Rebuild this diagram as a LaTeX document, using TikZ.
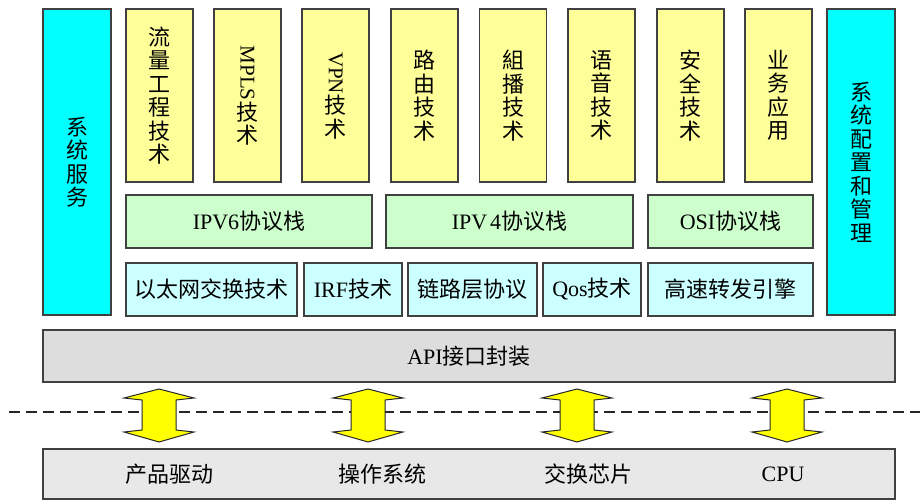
\documentclass[tikz,border=0pt]{standalone}
\usepackage{fontspec}
\setmainfont{Liberation Serif}
\newfontfamily\cjk{Noto Sans CJK SC}
\newcommand\lat[1]{{\rmfamily #1}}
\definecolor{colY}{HTML}{FFFF99}
\definecolor{colG}{HTML}{CCFFCC}
\definecolor{colLC}{HTML}{CCFFFF}
\definecolor{colC}{HTML}{00FFFF}
\definecolor{colApi}{HTML}{DDDDDD}
\definecolor{colBot}{HTML}{E8E8E8}
\definecolor{colArr}{HTML}{FFFF00}
\definecolor{colEdge}{HTML}{404040}
\begin{document}
\begin{tikzpicture}[x=1pt,y=-1pt,
  blk/.style={draw=colEdge, line width=1.5pt, inner sep=0pt, align=center,
    font=\cjk\fontsize{22}{23.5}\selectfont},
  ycol/.style={blk, fill=colY, minimum width=67pt, minimum height=173pt},
  ccol/.style={blk, fill=colC, minimum width=68pt, minimum height=306pt},
  greenrow/.style={blk, fill=colG, minimum height=53pt},
  lcrow/.style={blk, fill=colLC, minimum height=53pt},
  layerbox/.style={blk, minimum width=852pt},
  lbl/.style={inner sep=0pt, font=\cjk\fontsize{22}{23.5}\selectfont},
  sepline/.style={draw=black!85, line width=2pt, dash pattern=on 11pt off 6pt},
  darr/.pic={\draw[fill=colArr, draw=black!85, line width=1pt, line join=miter]
    (0,-26.5) -- (35,-17.5) -- (17,-15.5) -- (17,14.5) -- (35,16.5) -- (0,26.5)
    -- (-35,16.5) -- (-17,14.5) -- (-17,-15.5) -- (-35,-17.5) -- cycle;}
]
\useasboundingbox (0,0) rectangle (920,500);

% side columns
\node[ccol] (sys) at (77,162) {系\\统\\服\\务};
\node[ccol] (cfg) at (861,162) {系\\统\\配\\置\\和\\管\\理};

% top columns
\node[ycol] (t1) at (159.5,95.5) {流\\量\\工\\程\\技\\术};
\node[ycol] (t2) at (247.5,95.5) {\rotatebox[origin=c]{-90}{\lat{\fontsize{21}{22}\selectfont MPLS}}\\技\\术};
\node[ycol] (t3) at (335.5,95.5) {\rotatebox[origin=c]{-90}{\lat{\fontsize{21}{22}\selectfont VPN}}\\技\\术};
\node[ycol] (t4) at (424.5,95.5) {路\\由\\技\\术};
\node[ycol] (t5) at (513,95.5) {組\\播\\技\\术};
\node[ycol] (t6) at (601.5,95.5) {语\\音\\技\\术};
\node[ycol] (t7) at (690.5,95.5) {安\\全\\技\\术};
\node[ycol] (t8) at (778.5,95.5) {业\\务\\应\\用};

% protocol stacks
\node[greenrow, minimum width=246pt] (ipv6) at (249,221.5) {\lat{IPV6}协议栈};
\node[greenrow, minimum width=247pt] (ipv4) at (509.5,221.5) {\lat{IPV\hspace{3pt}4}协议栈};
\node[greenrow, minimum width=165pt] (osi) at (730.5,221.5) {\lat{OSI}协议栈};

% lower techniques
\node[lcrow, minimum width=171pt] (eth) at (211.5,289.5) {以太网交换技术};
\node[lcrow, minimum width=98pt] (irf) at (353,289.5) {\lat{IRF}技术};
\node[lcrow, minimum width=129pt] (lnk) at (472.5,289.5) {链路层协议};
\node[lcrow, minimum width=98pt] (qos) at (592,289.5) {\lat{Qos}技术};
\node[lcrow, minimum width=165pt] (fwd) at (730.5,289.5) {高速转发引擎};

% API layer
\node[layerbox, fill=colApi, minimum height=52pt] (api) at (469,356) {\lat{API}接口封装};

% separator
\coordinate (sepL) at (9,412);
\coordinate (sepR) at (920,412);
\draw[sepline] (sepL) -- (sepR);

% arrows
\pic at (159,415.5) {darr};
\pic at (368,415.5) {darr};
\pic at (577,415.5) {darr};
\pic at (787,415.5) {darr};

% bottom layer
\node[layerbox, fill=colBot, minimum height=50pt] (bot) at (469,474) {};
\node[lbl] (drv) at (169,474) {产品驱动};
\node[lbl] (os) at (382,474) {操作系统};
\node[lbl] (chip) at (588,474) {交换芯片};
\node[lbl] (cpu) at (783,474) {\lat{CPU}};
\end{tikzpicture}
\end{document}
